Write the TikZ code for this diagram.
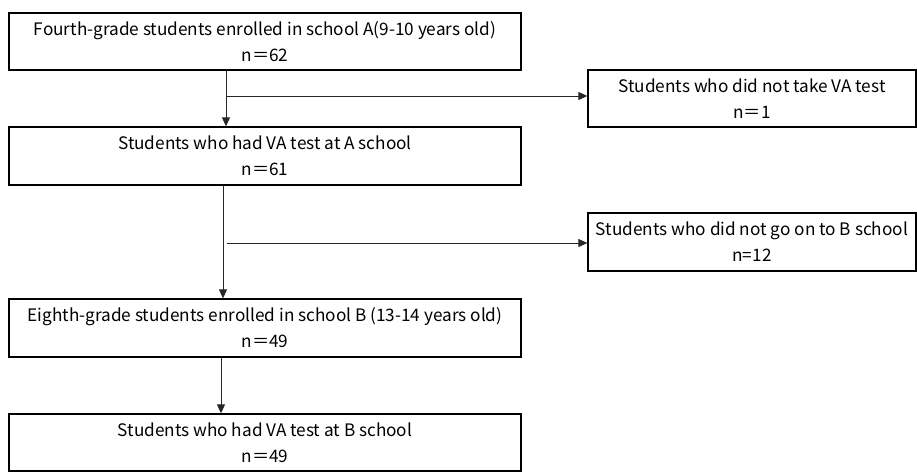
\documentclass[tikz,border=0pt]{standalone}
\usepackage{fontspec}
\setmainfont{Noto Sans CJK JP}
\usetikzlibrary{arrows.meta}
\tikzset{
  box/.style={draw=black, line width=1.3pt, inner sep=0pt, align=center,
    font=\fontsize{17.2}{26}\selectfont, text=black},
  arr/.style={draw=black!85, line width=0.9pt, -{Triangle[length=9pt,width=8pt]}},
  plain/.style={draw=black!85, line width=0.9pt}
}
\begin{document}
\begin{tikzpicture}[x=1pt,y=1pt]
\useasboundingbox (0,0) rectangle (917,-471);
\node[box, minimum width=512pt, minimum height=57pt] (A) at (265,-41.5)
  {Fourth-grade students enrolled in school A(9-10 years old)\\n＝62};
\node[box, minimum width=512pt, minimum height=58pt] (B) at (265,-156)
  {Students who had VA test at A school\\n＝61};
\node[box, minimum width=512pt, minimum height=58pt] (C) at (265,-328)
  {Eighth-grade students enrolled in school B (13-14 years old)\\n＝49};
\node[box, minimum width=512pt, minimum height=57pt] (D) at (265,-442.5)
  {Students who had VA test at B school\\n＝49};
\node[box, minimum width=328pt, minimum height=57pt] (R1) at (752,-98.5)
  {Students who did not take VA test\\n＝1};
\node[box, minimum width=328pt, minimum height=58pt] (R2) at (752,-242)
  {Students who did not go on to B school\\n=12};
\coordinate (j1) at (226,-96);
\coordinate (j2) at (227,-243);
\draw[arr] ([xshift=-39pt]A.south) -- ([xshift=-39pt]B.north);
\draw[arr] (j1) -- (j1 -| R1.west);
\draw[arr] ([xshift=-42pt]B.south) -- ([xshift=-42pt]C.north);
\draw[arr] (j2) -- (j2 -| R2.west);
\draw[arr] ([xshift=-44pt]C.south) -- ([xshift=-44pt]D.north);
\end{tikzpicture}
\end{document}
